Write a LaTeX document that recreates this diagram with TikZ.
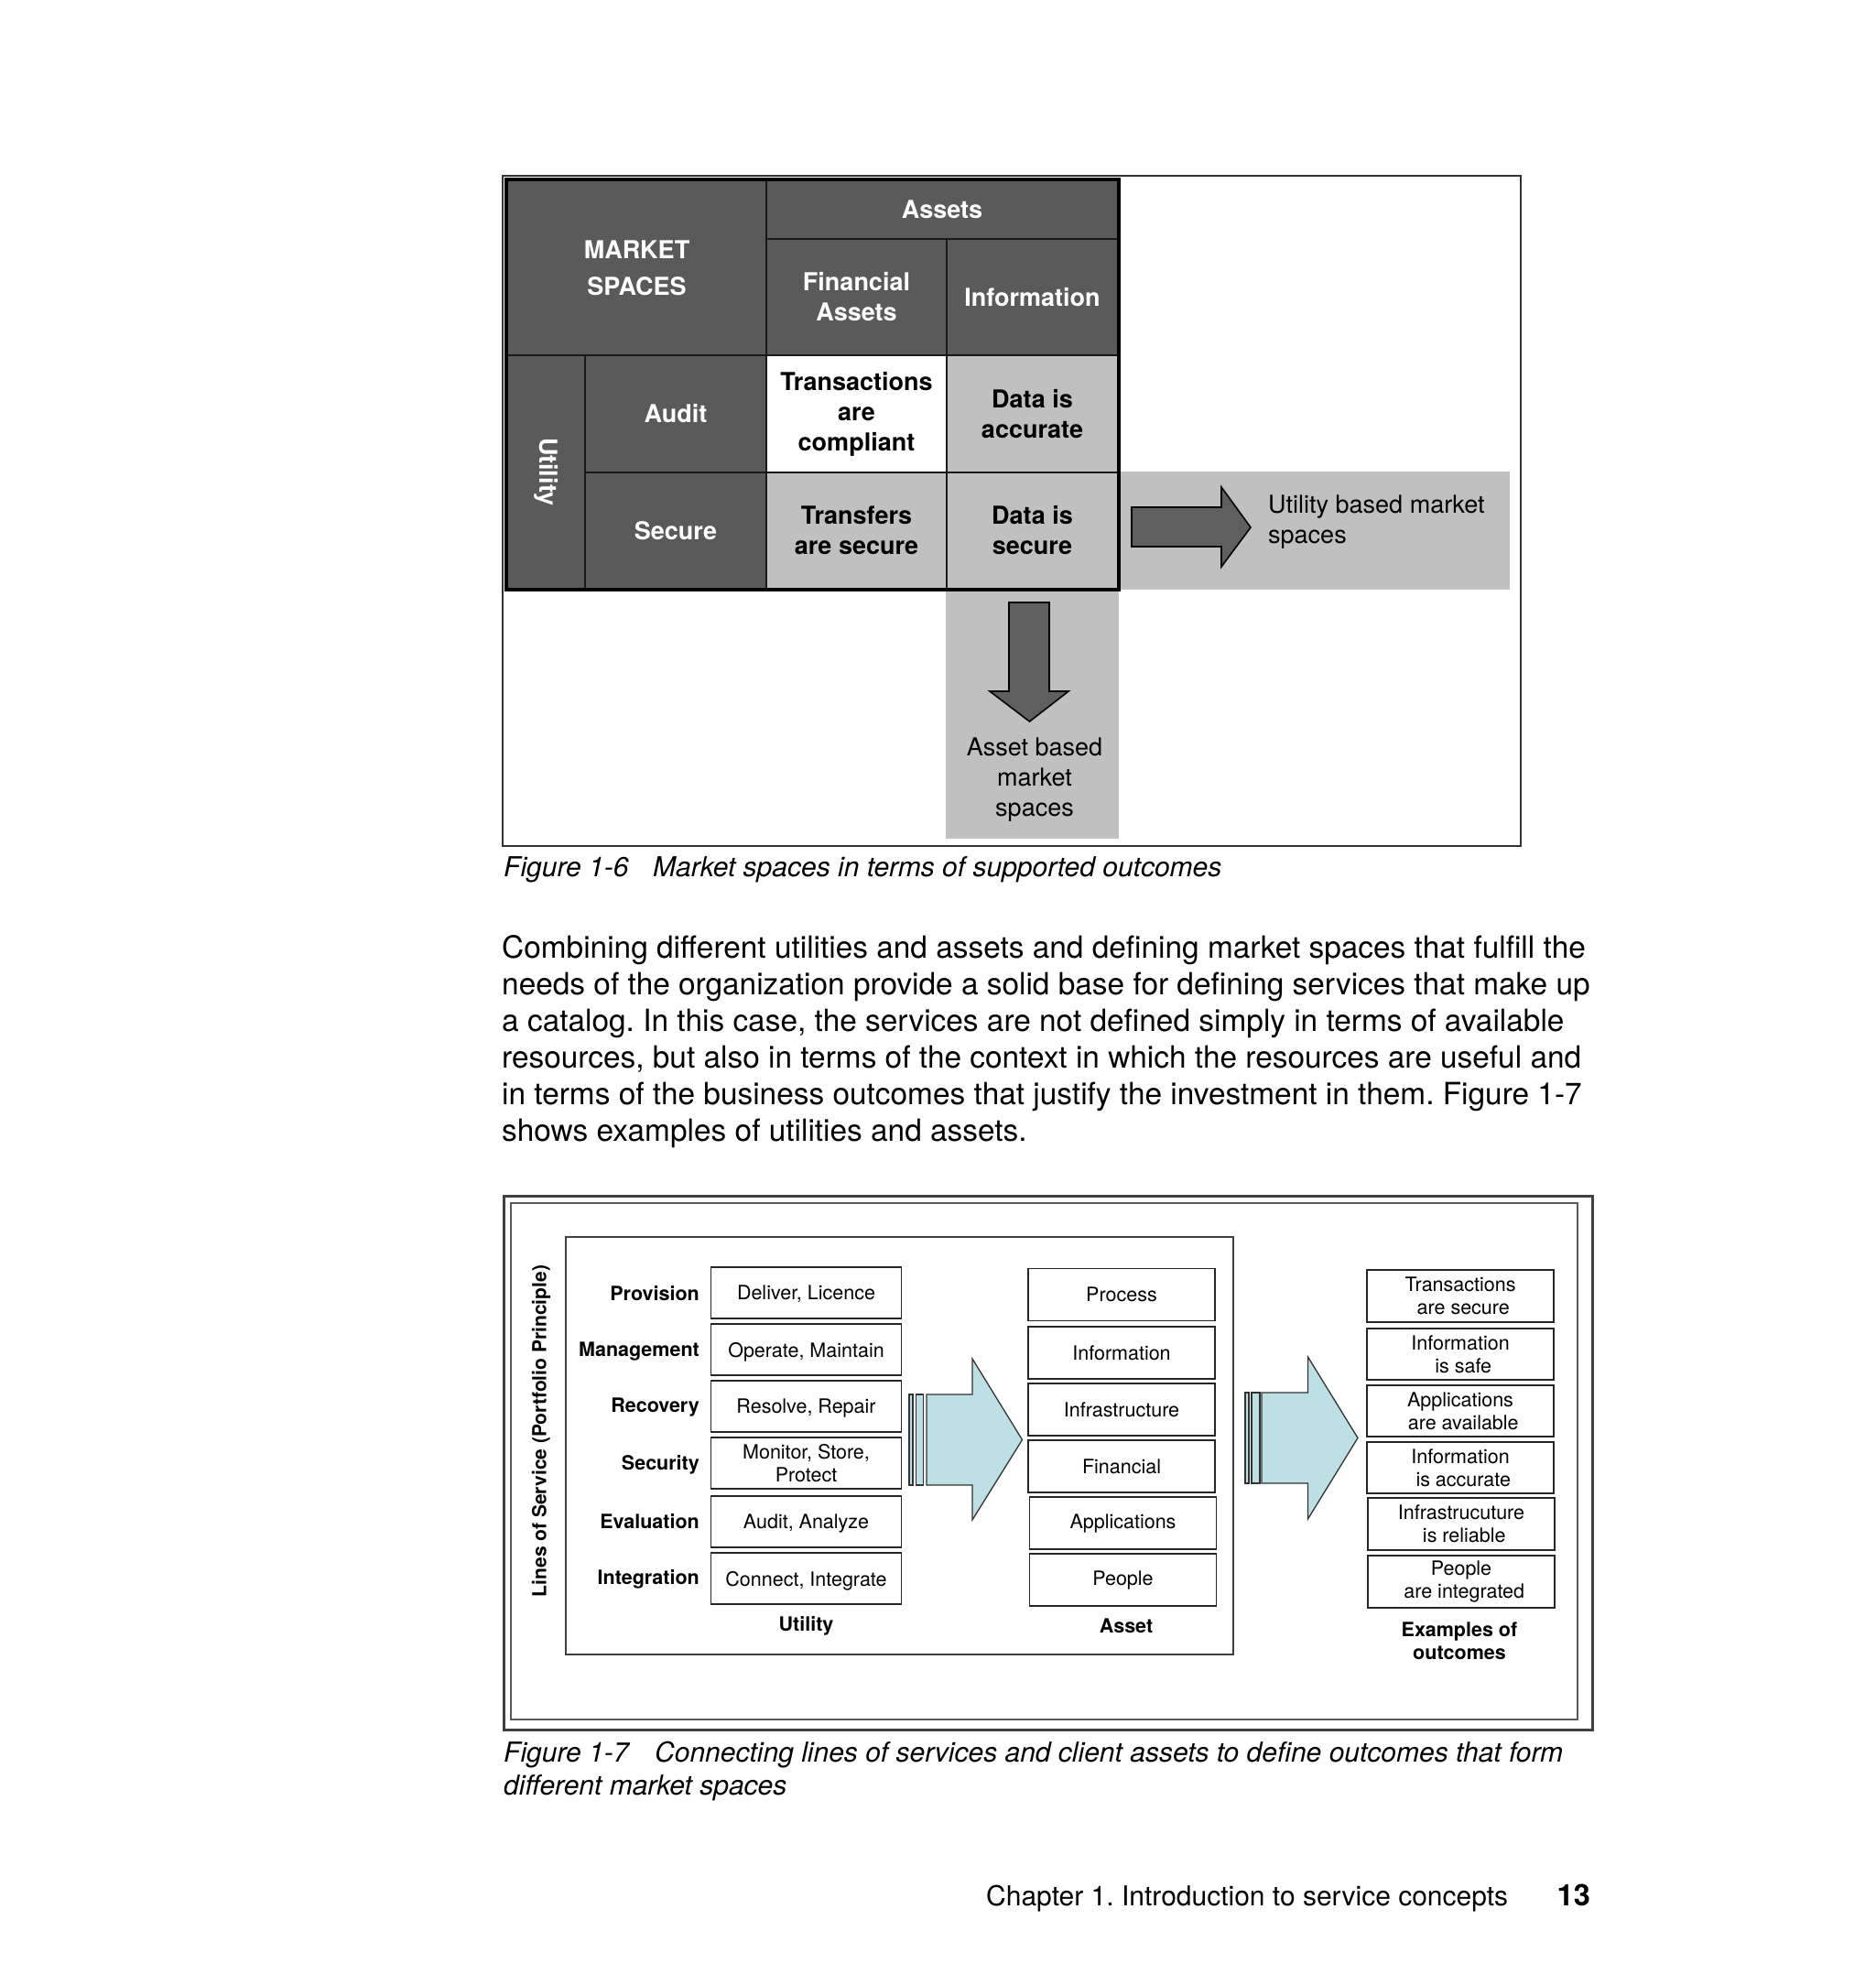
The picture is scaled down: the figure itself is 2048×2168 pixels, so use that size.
\documentclass[tikz,border=0pt]{standalone}
\usepackage{fontspec}
\setmainfont{TeX Gyre Heros}
\frenchspacing
\definecolor{dkgray}{RGB}{90,90,90}
\definecolor{ltgray}{RGB}{192,192,192}
\definecolor{tealfill}{RGB}{188,224,227}
\definecolor{arrowgray}{RGB}{95,95,95}
\begin{document}
\begin{tikzpicture}[x=1pt,y=-1pt,
  cell/.style={draw=black!90, line width=2pt, inner sep=0pt, anchor=north west, align=center, font=\bfseries\fontsize{27}{33}\selectfont},
  dk/.style={cell, fill=dkgray, text=white},
  lt/.style={cell, fill=ltgray, text=black},
  wt/.style={cell, fill=white, text=black},
  plaintext/.style={inner sep=0pt, font=\fontsize{27}{33}\selectfont, align=center},
  bx/.style={draw=black!85, line width=1.8pt, fill=white, inner sep=0pt, align=center, font=\fontsize{21.5}{25}\selectfont},
  ubx/.style={bx, minimum width=208pt, minimum height=56pt},
  abx/.style={bx, minimum width=204pt, minimum height=57pt},
  obx/.style={bx, minimum width=203.5pt, minimum height=56.5pt},
  lbl/.style={inner sep=0pt, font=\bfseries\fontsize{21.5}{25}\selectfont, align=center},
  para/.style={inner sep=0pt, anchor=base west, font=\fontsize{33.4}{40}\selectfont},
  captext/.style={inner sep=0pt, anchor=base west, font=\itshape\fontsize{30}{36}\selectfont},
  blockarrow/.style={fill=arrowgray, draw=black, line width=1.6pt, line join=miter},
  cyanarrow/.style={fill=tealfill, draw=black!80, line width=1.3pt, line join=miter},
]
\useasboundingbox (0,0) rectangle (2048,2168);
\fill[white] (0,0) rectangle (2048,2168);

% ---------------- Figure 1-6 ----------------
\draw[line width=2pt, draw=black!80] (549,192) rectangle (1661,924);
\fill[ltgray] (1220,515) rectangle (1649,644);
\fill[ltgray] (1033,642) rectangle (1222,916);

\node[dk, minimum width=283pt, minimum height=191pt, font=\bfseries\fontsize{27}{40}\selectfont] (ms) at (553,196) {MARKET\\SPACES};
\node[dk, minimum width=384pt, minimum height=64pt] (assets) at (836,196) {Assets};
\node[dk, minimum width=197pt, minimum height=127pt] (fin) at (836,260) {Financial\\Assets};
\node[dk, minimum width=187pt, minimum height=127pt] (info) at (1033,260) {Information};
\node[dk, minimum width=85pt, minimum height=255pt] (utilcell) at (553,387) {};
\node[rotate=-90, inner sep=0pt, text=white, font=\bfseries\fontsize{27}{33}\selectfont] (utiltxt) at (utilcell.center) {Utility};
\node[dk, minimum width=198pt, minimum height=128pt] (audit) at (638,387) {Audit};
\node[dk, minimum width=198pt, minimum height=127pt] (secure) at (638,515) {Secure};
\node[wt, minimum width=197pt, minimum height=128pt] (trans) at (836,387) {Transactions\\are\\compliant};
\node[lt, minimum width=187pt, minimum height=128pt] (dacc) at (1033,387) {Data is\\accurate};
\node[lt, minimum width=197pt, minimum height=127pt] (tsec) at (836,515) {Transfers\\are secure};
\node[lt, minimum width=187pt, minimum height=127pt] (dsec) at (1033,515) {Data is\\secure};
\draw[line width=4.5pt, line join=miter] (ms.north west) rectangle (dsec.south east);

\draw[blockarrow] (1236,554) -- (1334,554) -- (1334,532) -- (1366,576) -- (1334,619) -- (1334,597) -- (1236,597) -- cycle;
\draw[blockarrow] (1102,658) -- (1146,658) -- (1146,755) -- (1167,755) -- (1124.5,788) -- (1081,755) -- (1102,755) -- cycle;

\node[plaintext, anchor=west, align=left] (utxt) at (1385,570) {Utility based market\\spaces};
\node[plaintext] (atxt) at (1130,852) {Asset based\\market\\spaces};

\node[captext] (f6a) at (550,957) {Figure 1-6};
\node[captext] (f6b) at (713,957) {Market spaces in terms of supported outcomes};

% ---------------- Paragraph ----------------
\node[para] (p1) at (548,1046) {Combining different utilities and assets and defining market spaces that fulfill the};
\node[para] (p2) at (548,1086) {needs of the organization provide a solid base for defining services that make up};
\node[para] (p3) at (548,1126) {a catalog. In this case, the services are not defined simply in terms of available};
\node[para] (p4) at (548,1166) {resources, but also in terms of the context in which the resources are useful and};
\node[para] (p5) at (548,1206) {in terms of the business outcomes that justify the investment in them. Figure 1-7};
\node[para] (p6) at (548,1246) {shows examples of utilities and assets.};

% ---------------- Figure 1-7 ----------------
\draw[line width=3pt, draw=black!75] (550,1306) rectangle (1739,1889);
\draw[line width=1.5pt, draw=black!65] (558,1314) rectangle (1723,1878);
\draw[line width=2pt, draw=black!75] (618,1351) rectangle (1347,1807);

\node[lbl, rotate=90, font=\bfseries\fontsize{21}{25}\selectfont] (los) at (591,1563) {Lines of Service (Portfolio Principle)};

\node[lbl, anchor=east] (l1) at (764,1413) {Provision};
\node[lbl, anchor=east] (l2) at (764,1476) {Management};
\node[lbl, anchor=east] (l3) at (764,1537) {Recovery};
\node[lbl, anchor=east] (l4) at (764,1600) {Security};
\node[lbl, anchor=east] (l5) at (764,1662) {Evaluation};
\node[lbl, anchor=east] (l6) at (764,1725) {Integration};

\node[ubx, text depth=0pt] (u1) at (880.5,1412) {Deliver, Licence};
\node[ubx, text depth=0pt] (u2) at (880.5,1474) {Operate, Maintain};
\node[ubx, text depth=0pt] (u3) at (880.5,1536) {Resolve, Repair};
\node[ubx] (u4) at (880.5,1598) {Monitor, Store,\\Protect};
\node[ubx, text depth=0pt] (u5) at (880.5,1662) {Audit, Analyze};
\node[ubx, text depth=0pt] (u6) at (880.5,1724) {Connect, Integrate};

\node[abx] (a1) at (1225,1414) {Process};
\node[abx] (a2) at (1225,1477.5) {Information};
\node[abx] (a3) at (1225,1539.5) {Infrastructure};
\node[abx] (a4) at (1225,1601.5) {Financial};
\node[abx] (a5) at (1226.5,1663.5) {Applications};
\node[abx] (a6) at (1226.5,1725.5) {People};

\node[obx] (o1) at (1595,1415.5) {Transactions\\\hspace*{6.5pt}are secure};
\node[obx] (o2) at (1595,1479) {Information\\\hspace*{6.5pt}is safe};
\node[obx] (o3) at (1595,1541) {Applications\\\hspace*{6.5pt}are available};
\node[obx] (o4) at (1595,1603) {Information\\\hspace*{6.5pt}is accurate};
\node[obx] (o5) at (1596,1664.5) {Infrastrucuture\\\hspace*{6.5pt}is reliable};
\node[obx] (o6) at (1596,1727.5) {People\\\hspace*{6.5pt}are integrated};

\draw[cyanarrow] (993,1523) rectangle (997,1622);
\draw[cyanarrow] (1000.7,1523) rectangle (1008.7,1622);
\draw[cyanarrow] (1012,1523) -- (1062,1523) -- (1062,1484) -- (1116.5,1572.5) -- (1062,1660) -- (1062,1622) -- (1012,1622) -- cycle;

\draw[cyanarrow] (1360,1521) rectangle (1364,1620);
\draw[cyanarrow] (1367,1521) rectangle (1376,1620);
\draw[cyanarrow] (1378,1521) -- (1428.5,1521) -- (1428.5,1482) -- (1483,1570.5) -- (1428.5,1659) -- (1428.5,1620) -- (1378,1620) -- cycle;

\node[lbl] (ulbl) at (880.5,1776) {Utility};
\node[lbl] (albl) at (1230,1776) {Asset};
\node[lbl] (olbl) at (1594,1792) {Examples of\\outcomes};

\node[captext] (f7a) at (550,1924) {Figure 1-7};
\node[captext] (f7b) at (715,1924) {Connecting lines of services and client assets to define outcomes that form};
\node[captext] (f7c) at (550,1960) {different market spaces};

% ---------------- Footer ----------------
\node[inner sep=0pt, anchor=base west, font=\fontsize{30}{36}\selectfont] (chap) at (1077,2081) {Chapter 1. Introduction to service concepts};
\node[inner sep=0pt, anchor=base east, font=\bfseries\fontsize{32.5}{36}\selectfont] (pg) at (1737,2081) {13};
\end{tikzpicture}
\end{document}
